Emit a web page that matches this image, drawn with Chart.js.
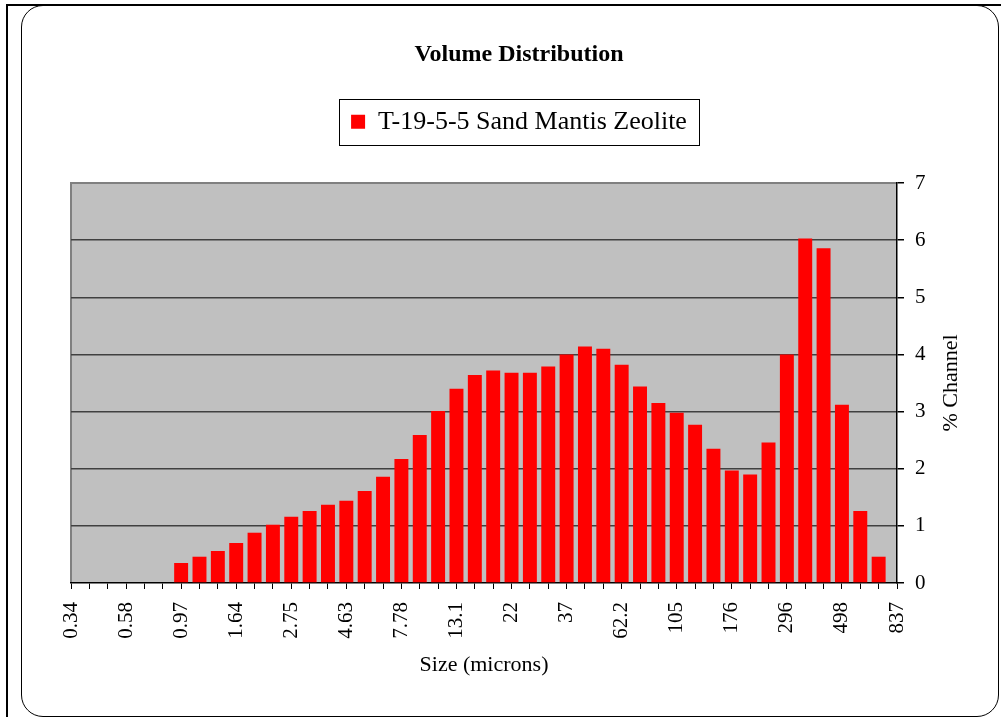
<!DOCTYPE html>
<html>
<head>
<meta charset="utf-8">
<script src="https://cdn.jsdelivr.net/npm/chart.js@4.4.1/dist/chart.umd.min.js"></script>
<style>
  body { margin: 0; background: #fff; }
  #wrap { position: relative; width: 1001px; height: 717px; overflow: hidden; }
  .outer { position: absolute; left: 6px; top: 4px; width: 995px; height: 713px; border-left: 2px solid #000; border-top: 2px solid #000; box-sizing: border-box; }
  .frame { position: absolute; left: 21px; top: 5px; width: 978px; height: 712px; border: 1px solid #000; border-radius: 22px; box-sizing: border-box; }
  #box { position: absolute; left: 0; top: 0; width: 1001px; height: 717px; }
</style>
</head>
<body>
<div id="wrap">
  <div class="outer"></div>
  <div class="frame"></div>
  <div id="box"><canvas id="volumen"></canvas></div>
</div>
<script>
// Canales de tamaño (micrones)
const tamanos = ["0.34", "0.41", "0.49", "0.58", "0.69", "0.82", "0.97", "1.16", "1.38", "1.64",
  "1.95", "2.31", "2.75", "3.27", "3.89", "4.63", "5.5", "6.54", "7.78", "9.25",
  "11", "13.1", "15.6", "18.5", "22", "26.2", "31.1", "37", "44", "52.3",
  "62.2", "74", "88", "105", "125", "148", "176", "209", "249", "296",
  "352", "419", "498", "592", "704", "837"];

// % Channel por canal
const canal = [0, 0, 0, 0, 0, 0, 0.35, 0.46, 0.56, 0.70,
  0.88, 1.02, 1.16, 1.26, 1.37, 1.44, 1.61, 1.86, 2.17, 2.59,
  3.01, 3.40, 3.64, 3.72, 3.68, 3.68, 3.79, 4.00, 4.14, 4.10,
  3.82, 3.44, 3.15, 2.98, 2.77, 2.35, 1.97, 1.90, 2.46, 4.00,
  6.03, 5.86, 3.12, 1.26, 0.46, 0];

const serie = "T-19-5-5 Sand Mantis Zeolite";
const titulo = "Volume Distribution";
const ejeX = "Size (microns)";
const ejeY = "% Channel";

Chart.defaults.font.family = '"Liberation Serif", "Times New Roman", serif';
Chart.defaults.color = '#000';

// Fondo gris del area, bordes y caja de leyenda
const decoracion = {
    id: 'decoracion',
    beforeDraw(chart) {
        const {ctx, chartArea: a} = chart;
        ctx.save();
        ctx.fillStyle = '#C0C0C0';
        ctx.fillRect(a.left, a.top, a.right - a.left, a.bottom - a.top);
        ctx.strokeStyle = '#808080';
        ctx.lineWidth = 2;
        ctx.beginPath();
        ctx.moveTo(a.left, a.bottom);
        ctx.lineTo(a.left, a.top);
        ctx.lineTo(a.right, a.top);
        ctx.stroke();
        ctx.restore();
    },
    afterDraw(chart) {
        const {ctx, chartArea: a} = chart;
        ctx.save();
        const hb = chart.legend.legendHitBoxes[0];
        if (hb) {
            ctx.strokeStyle = '#000';
            ctx.lineWidth = 1;
            ctx.strokeRect(Math.round(hb.left - 12) + 0.5, Math.round(hb.top - 10) + 0.5, Math.round(hb.width + 24), Math.round(hb.height + 20));
        }
        ctx.translate(951, (a.top + a.bottom) / 2);
        ctx.rotate(-Math.PI / 2);
        ctx.font = '22px "Liberation Serif", "Times New Roman", serif';
        ctx.fillStyle = '#000';
        ctx.textAlign = 'center';
        ctx.textBaseline = 'middle';
        ctx.fillText(ejeY, 0, 0);
        ctx.restore();
    }
};

new Chart(document.getElementById('volumen'), {
    type: 'bar',
    data: {
        labels: tamanos,
        datasets: [
            {
                label: serie,
                data: canal,
                backgroundColor: "#FF0000",
                borderWidth: 0,
                barPercentage: 0.76,
                categoryPercentage: 1
            }
        ]
    },
    options: {
        responsive: true,
        maintainAspectRatio: false,
        animation: false,
        layout: {
            padding: {left: 71, right: 34, top: 0, bottom: 24}
        },
        plugins: {
            title: {
                display: true,
                text: titulo,
                font: {size: 24, weight: 'bold'},
                padding: {top: 40, bottom: 0}
            },
            subtitle: {
                display: true,
                text: '',
                weight: 500,
                font: {size: 5, lineHeight: 1},
                padding: {top: 0, bottom: 33.2}
            },
            legend: {
                position: 'top',
                labels: {
                    font: {size: 26},
                    boxWidth: 14,
                    boxHeight: 14,
                    padding: 40,
                    color: '#000'
                }
            },
            tooltip: {enabled: false}
        },
        scales: {
            x: {
                offset: false,
                afterFit: (scale) => { scale.height = 110; },
                grid: {
                    offset: false,
                    drawOnChartArea: false,
                    tickLength: 6,
                    color: '#000'
                },
                border: {color: '#000', width: 1.5},
                ticks: {
                    autoSkip: false,
                    maxRotation: 90,
                    minRotation: 90,
                    padding: 13,
                    font: {size: 21},
                    callback: (v, i) => (i % 3 === 0 ? tamanos[i] : '')
                },
                title: {
                    display: true,
                    text: ejeX,
                    font: {size: 22},
                    padding: {top: 0, bottom: 15}
                }
            },
            y: {
                position: 'right',
                min: 0,
                max: 7,
                afterFit: (scale) => { scale.width = 70; },
                grid: {
                    color: (c) => (c.tick.value === 0 || c.tick.value === 7 ? 'rgba(0,0,0,0)' : '#404040'),
                    tickColor: '#000',
                    lineWidth: 1.5,
                    tickLength: 7
                },
                border: {color: '#000', width: 1.5},
                ticks: {
                    stepSize: 1,
                    padding: 11,
                    font: {size: 21}
                }
            }
        }
    },
    plugins: [decoracion]
});
</script>
</body>
</html>
